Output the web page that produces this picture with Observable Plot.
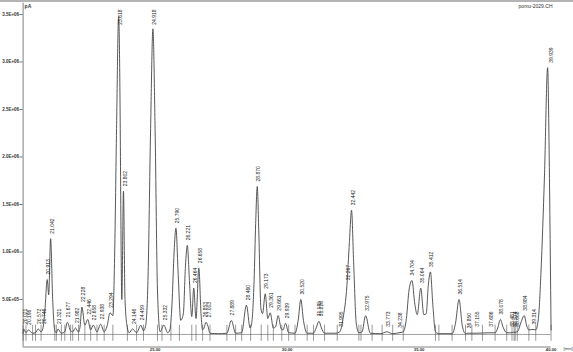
<!DOCTYPE html>
<html><head><meta charset="utf-8">
<script src="https://cdn.jsdelivr.net/npm/d3@7"></script>
<script src="https://cdn.jsdelivr.net/npm/@observablehq/plot@0.6"></script>
<style>html,body{margin:0;padding:0;background:#fff;} svg{display:block}</style>
</head><body><div id="chart"></div>
<script>
// Detector trace: [retention time (min), signal (pA)]
const tracePoints = [
 [20.00,1.45e5],[20.021,1.9e5],[20.11,1.5e5],[20.196,1.8e5],[20.36,1.45e5],[20.47,1.5e5],
 [20.572,1.9e5],[20.68,1.6e5],[20.746,1.9e5],[20.83,4.0e5],[20.913,7.1e5],[20.97,5.5e5],
 [21.042,1.14e6],[21.12,5.0e5],[21.20,1.7e5],[21.26,1.5e5],[21.321,1.9e5],[21.45,1.45e5],
 [21.58,1.6e5],[21.677,2.6e5],[21.80,1.7e5],[21.88,1.6e5],[21.982,2.0e5],[22.10,1.55e5],
 [22.16,2.2e5],[22.228,4.2e5],[22.34,2.3e5],[22.446,2.9e5],[22.56,1.8e5],[22.658,2.3e5],
 [22.80,1.6e5],[22.938,2.4e5],[23.07,1.6e5],[23.18,2.2e5],[23.294,3.6e5],[23.40,3.3e5],
 [23.47,1.0e6],[23.54,2.3e6],[23.618,3.476e6],[23.68,2.3e6],[23.70,1.5e6],[23.74,5.0e5],
 [23.802,1.64e6],[23.86,5.0e5],[23.95,2.0e5],[24.02,1.5e5],[24.146,1.9e5],[24.30,1.5e5],
 [24.459,2.3e5],[24.56,1.7e5],[24.64,2.2e5],[24.73,7.0e5],[24.83,2.3e6],[24.918,3.349e6],
 [25.00,2.3e6],[25.09,6.0e5],[25.19,1.6e5],[25.332,2.3e5],[25.48,1.5e5],[25.56,1.8e5],
 [25.64,4.5e5],[25.72,1.0e6],[25.790,1.25e6],[25.87,8.0e5],[25.97,2.8e5],[26.07,3.5e5],
 [26.15,8.5e5],[26.221,1.07e6],[26.30,7.0e5],[26.39,3.2e5],[26.464,6.2e5],[26.55,3.0e5],
 [26.658,8.3e5],[26.74,3.5e5],[26.80,1.8e5],[26.853,2.0e5],[26.93,2.6e5],[27.003,2.2e5],
 [27.08,1.45e5],[27.40,1.4e5],[27.72,1.45e5],[27.889,2.8e5],[28.05,1.45e5],[28.28,1.5e5],
 [28.460,4.4e5],[28.60,2.0e5],[28.66,2.5e5],[28.75,7.0e5],[28.81,1.3e6],[28.870,1.69e6],
 [28.93,1.2e6],[29.01,4.0e5],[29.07,3.5e5],[29.173,5.6e5],[29.27,3.0e5],[29.361,3.6e5],
 [29.48,2.0e5],[29.56,2.1e5],[29.661,3.3e5],[29.78,1.9e5],[29.85,1.8e5],[29.939,2.5e5],
 [30.06,1.5e5],[30.30,1.45e5],[30.42,2.8e5],[30.520,5.0e5],[30.62,2.8e5],[30.76,1.45e5],
 [31.00,1.45e5],[31.10,2.0e5],[31.205,2.7e5],[31.30,2.0e5],[31.42,1.45e5],[31.85,1.45e5],
 [31.995,1.6e5],[32.12,3.0e5],[32.267,6.5e5],[32.36,1.1e6],[32.442,1.44e6],[32.52,9.0e5],
 [32.62,2.5e5],[32.72,1.5e5],[32.84,1.6e5],[32.975,3.3e5],[33.15,1.45e5],[33.55,1.4e5],
 [33.773,1.6e5],[34.00,1.4e5],[34.238,1.5e5],[34.40,1.6e5],[34.52,3.0e5],[34.62,6.0e5],
 [34.73,7.0e5],[34.84,4.5e5],[34.93,3.4e5],[35.064,6.2e5],[35.18,3.4e5],[35.27,3.5e5],
 [35.35,6.5e5],[35.43,7.9e5],[35.52,4.5e5],[35.62,1.6e5],[35.75,1.4e5],[36.25,1.4e5],
 [36.38,2.5e5],[36.514,5.0e5],[36.64,2.2e5],[36.76,1.4e5],[36.850,1.45e5],[37.155,1.45e5],
 [37.686,1.5e5],[37.88,1.5e5],[37.98,2.0e5],[38.078,2.9e5],[38.18,2.1e5],[38.32,1.5e5],
 [38.481,1.5e5],[38.574,1.55e5],[38.668,1.55e5],[38.75,1.7e5],[38.86,2.6e5],[38.984,3.3e5],
 [39.08,2.2e5],[39.16,1.8e5],[39.314,1.85e5],[39.42,1.8e5],[39.52,3.0e5],[39.62,8.0e5],
 [39.75,1.8e6],[39.87,2.94e6],[39.93,2.0e6],[39.97,1.0e6],[40.00,1.8e5]
];
// Labelled peaks: retention times and apex heights
const peakTimes = [20.021,20.196,20.572,20.746,20.913,21.042,21.321,21.677,21.982,22.228,22.446,22.658,22.938,23.294,23.618,23.802,24.146,24.459,24.918,25.332,25.790,26.221,26.464,26.658,26.853,27.003,27.889,28.460,28.870,29.173,29.361,29.661,29.939,30.520,31.185,31.226,31.995,32.267,32.442,32.975,33.773,34.238,34.704,35.064,35.412,36.514,36.850,37.155,37.686,38.078,38.481,38.574,38.668,38.984,39.314,39.939];
const peakHeights = [1.9e5,1.8e5,1.9e5,1.9e5,7.1e5,1.14e6,1.9e5,2.6e5,2.0e5,4.2e5,2.9e5,2.3e5,2.4e5,3.6e5,3.476e6,1.64e6,1.9e5,2.3e5,3.349e6,2.3e5,1.25e6,1.07e6,6.2e5,8.3e5,2.6e5,2.6e5,2.8e5,4.4e5,1.69e6,5.6e5,3.6e5,3.3e5,2.5e5,5.0e5,2.7e5,2.7e5,1.6e5,6.5e5,1.44e6,3.3e5,1.6e5,1.5e5,7.0e5,6.2e5,7.9e5,5.0e5,1.45e5,1.6e5,1.6e5,2.9e5,1.6e5,1.6e5,1.6e5,3.3e5,1.85e5,2.94e6];
// Integration boundary marks
const boundaryTimes = [20.00,20.11,20.36,20.47,20.68,21.20,21.26,21.45,21.58,21.80,21.88,22.10,22.34,22.56,22.80,23.07,23.40,23.95,24.30,24.56,25.09,25.26,25.60,25.92,26.39,26.55,26.80,27.08,27.72,28.05,28.28,28.62,29.02,29.27,29.48,29.80,30.06,30.30,30.76,31.00,31.42,31.90,32.72,32.80,33.22,33.60,34.00,34.40,35.62,35.75,36.25,36.76,37.00,37.40,37.88,38.32,38.52,38.60,38.64,38.72,39.16,39.42,40.00];
const baselineSignal = 1.32e5;
const yTickValues = [5e5,1e6,1.5e6,2e6,2.5e6,3e6,3.5e6];
const yTickLabels = ["5.0E+05","1.0E+06","1.5E+06","2.0E+06","2.5E+06","3.0E+06","3.5E+06"];
const xTickValues = [25,30,35,40];
const xTickLabels = ["25.00","30.00","35.00","40.00"];
const fileName = "pomu-2029.CH";
const unitLabel = "pA";
const timeLabel = "[min]";

const yMax = 346.5/47.5*5e5;
const yMin = -(352-346.5)/47.5*5e5;

const chart = Plot.plot({
  width: 573, height: 352,
  marginLeft: 22.6, marginRight: 6.6, marginTop: 0, marginBottom: 0,
  x: {domain: [20, 40.6], axis: null},
  y: {domain: [yMin, yMax], axis: null},
  style: {background: "#fff", fontFamily: "'Liberation Sans', Arial, sans-serif", color: "#222"},
  marks: [
    Plot.ruleY([yMax], {x1: 19, x2: 41.5, stroke: "#b4b4b4", strokeWidth: 3}),
    Plot.ruleX([20], {y1: 0, y2: 3.62e6, stroke: "#808080", strokeWidth: 1}),
    Plot.ruleY(yTickValues, {x1: 19.88, x2: 20, stroke: "#555", strokeWidth: 0.8}),
    Plot.text(yTickValues, {x: 20, y: d => d, text: (d, i) => yTickLabels[i], textAnchor: "end", dx: -4, fontSize: 4.5, fontWeight: "bold", fill: "#333"}),
    Plot.ruleY([0], {x1: 20, x2: 40, stroke: "#808080", strokeWidth: 1}),
    Plot.text(xTickValues, {x: d => d, y: 0, text: (d, i) => xTickLabels[i], dy: 3, fontSize: 4.2, fontWeight: "bold", fill: "#333"}),
    Plot.text([timeLabel], {frameAnchor: "bottom-right", dx: 5.8, dy: -3, textAnchor: "end", fontSize: 4.2, fill: "#333"}),
    Plot.ruleY([baselineSignal], {x1: 20, x2: 40, stroke: "#8a8a8a", strokeWidth: 0.8}),
    Plot.ruleX(boundaryTimes, {y1: 0.6e5, y2: 2.3e5, stroke: "#555", strokeWidth: 0.6}),
    Plot.line(tracePoints, {x: d => d[0], y: d => d[1], stroke: "#444", strokeWidth: 0.9, curve: "monotone-x"}),
    Plot.text(peakTimes, {x: d => d, y: (d, i) => Math.min(peakHeights[i], 3.34e6), text: d => d.toFixed(3),
      rotate: -90, textAnchor: "start", dx: 1.5, dy: -5, fontSize: 5, fill: "#222"}),
    Plot.text([unitLabel], {frameAnchor: "top-left", dx: 1.5, dy: 4, textAnchor: "start", fontSize: 5, fontWeight: "bold", fill: "#333"}),
    Plot.text([fileName], {frameAnchor: "top-right", dx: -14.4, dy: 4, textAnchor: "end", fontSize: 5, fill: "#333"})
  ]
});
document.getElementById("chart").appendChild(chart);
</script></body></html>
